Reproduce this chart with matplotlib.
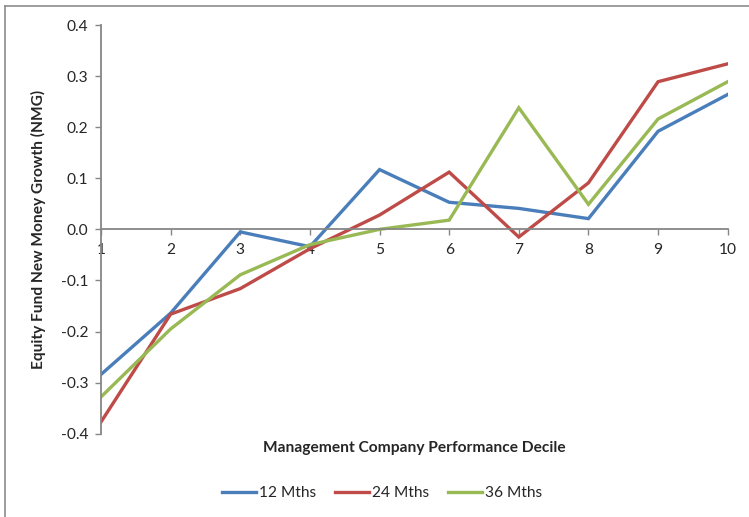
import matplotlib
matplotlib.use('Agg')
from matplotlib import pyplot as plt
from matplotlib.lines import Line2D

plt.rcParams['font.family'] = ['Lato', 'DejaVu Sans']

deciles = [1, 2, 3, 4, 5, 6, 7, 8, 9, 10]
nmg_12 = [-0.284, -0.164, -0.005, -0.034, 0.117, 0.053, 0.041, 0.021, 0.192, 0.264]
nmg_24 = [-0.377, -0.166, -0.116, -0.038, 0.028, 0.112, -0.015, 0.091, 0.289, 0.324]
nmg_36 = [-0.328, -0.195, -0.089, -0.030, 0.000, 0.018, 0.238, 0.049, 0.216, 0.289]
series_names = ['12 Mths', '24 Mths', '36 Mths']
colors = ['#4A7EBB', '#BE4B48', '#98B954']

W, H = 749, 517
fig = plt.figure(figsize=(W / 100, H / 100), dpi=100)
ax = fig.add_axes([101 / W, 1 - 433.7 / H, (727.7 - 101) / W, (433.7 - 25) / H])

for vals, name, c in zip([nmg_12, nmg_24, nmg_36], series_names, colors):
    ax.plot(deciles, vals, color=c, lw=2.4, label=name, solid_joinstyle='miter')

ax.set_xlim(1, 10)
ax.set_ylim(-0.4, 0.4)
ax.set_yticks([-0.4, -0.3, -0.2, -0.1, 0.0, 0.1, 0.2, 0.3, 0.4])
ax.set_yticklabels([f'{v:.1f}' for v in ax.get_yticks()])
ax.set_xticks(deciles)

axis_grey = '#868686'
for s in ['top', 'right']:
    ax.spines[s].set_visible(False)
ax.spines['bottom'].set_position(('data', 0))
ax.spines['bottom'].set_color(axis_grey)
ax.spines['left'].set_color(axis_grey)
ax.spines['bottom'].set_linewidth(1.3)
ax.spines['left'].set_linewidth(1.3)
ax.tick_params(axis='both', colors=axis_grey, length=4, width=1, labelcolor='#262626',
               labelsize=11.2)
ax.tick_params(axis='x', pad=6)
ax.tick_params(axis='y', pad=5)
ax.patch.set_alpha(0)

fig.text(414 / W, 1 - 448 / H, 'Management Company Performance Decile',
         ha='center', va='center', fontsize=11.2, fontweight='bold', color='#262626')
fig.text(38 / W, 1 - 229 / H, 'Equity Fund New Money Growth (NMG)', rotation=90,
         ha='center', va='center', fontsize=11.2, fontweight='bold', color='#262626')

handles = [Line2D([], [], color=c, lw=2.4) for c in colors]
fig.legend(handles, series_names, loc='center', bbox_to_anchor=(382 / W, 1 - 493 / H),
           ncol=3, frameon=False, fontsize=11.2, handlelength=2.2, handletextpad=0.2,
           columnspacing=1.2, labelcolor='#262626')

# chart frame (top and left edges)
fig.add_artist(Line2D([5 / W, 1], [1 - 6 / H, 1 - 6 / H], color='#8c8c8c', lw=1.2))
fig.add_artist(Line2D([5 / W, 5 / W], [0, 1 - 6 / H], color='#8c8c8c', lw=1.2))

fig.savefig('out.png', dpi=100)
